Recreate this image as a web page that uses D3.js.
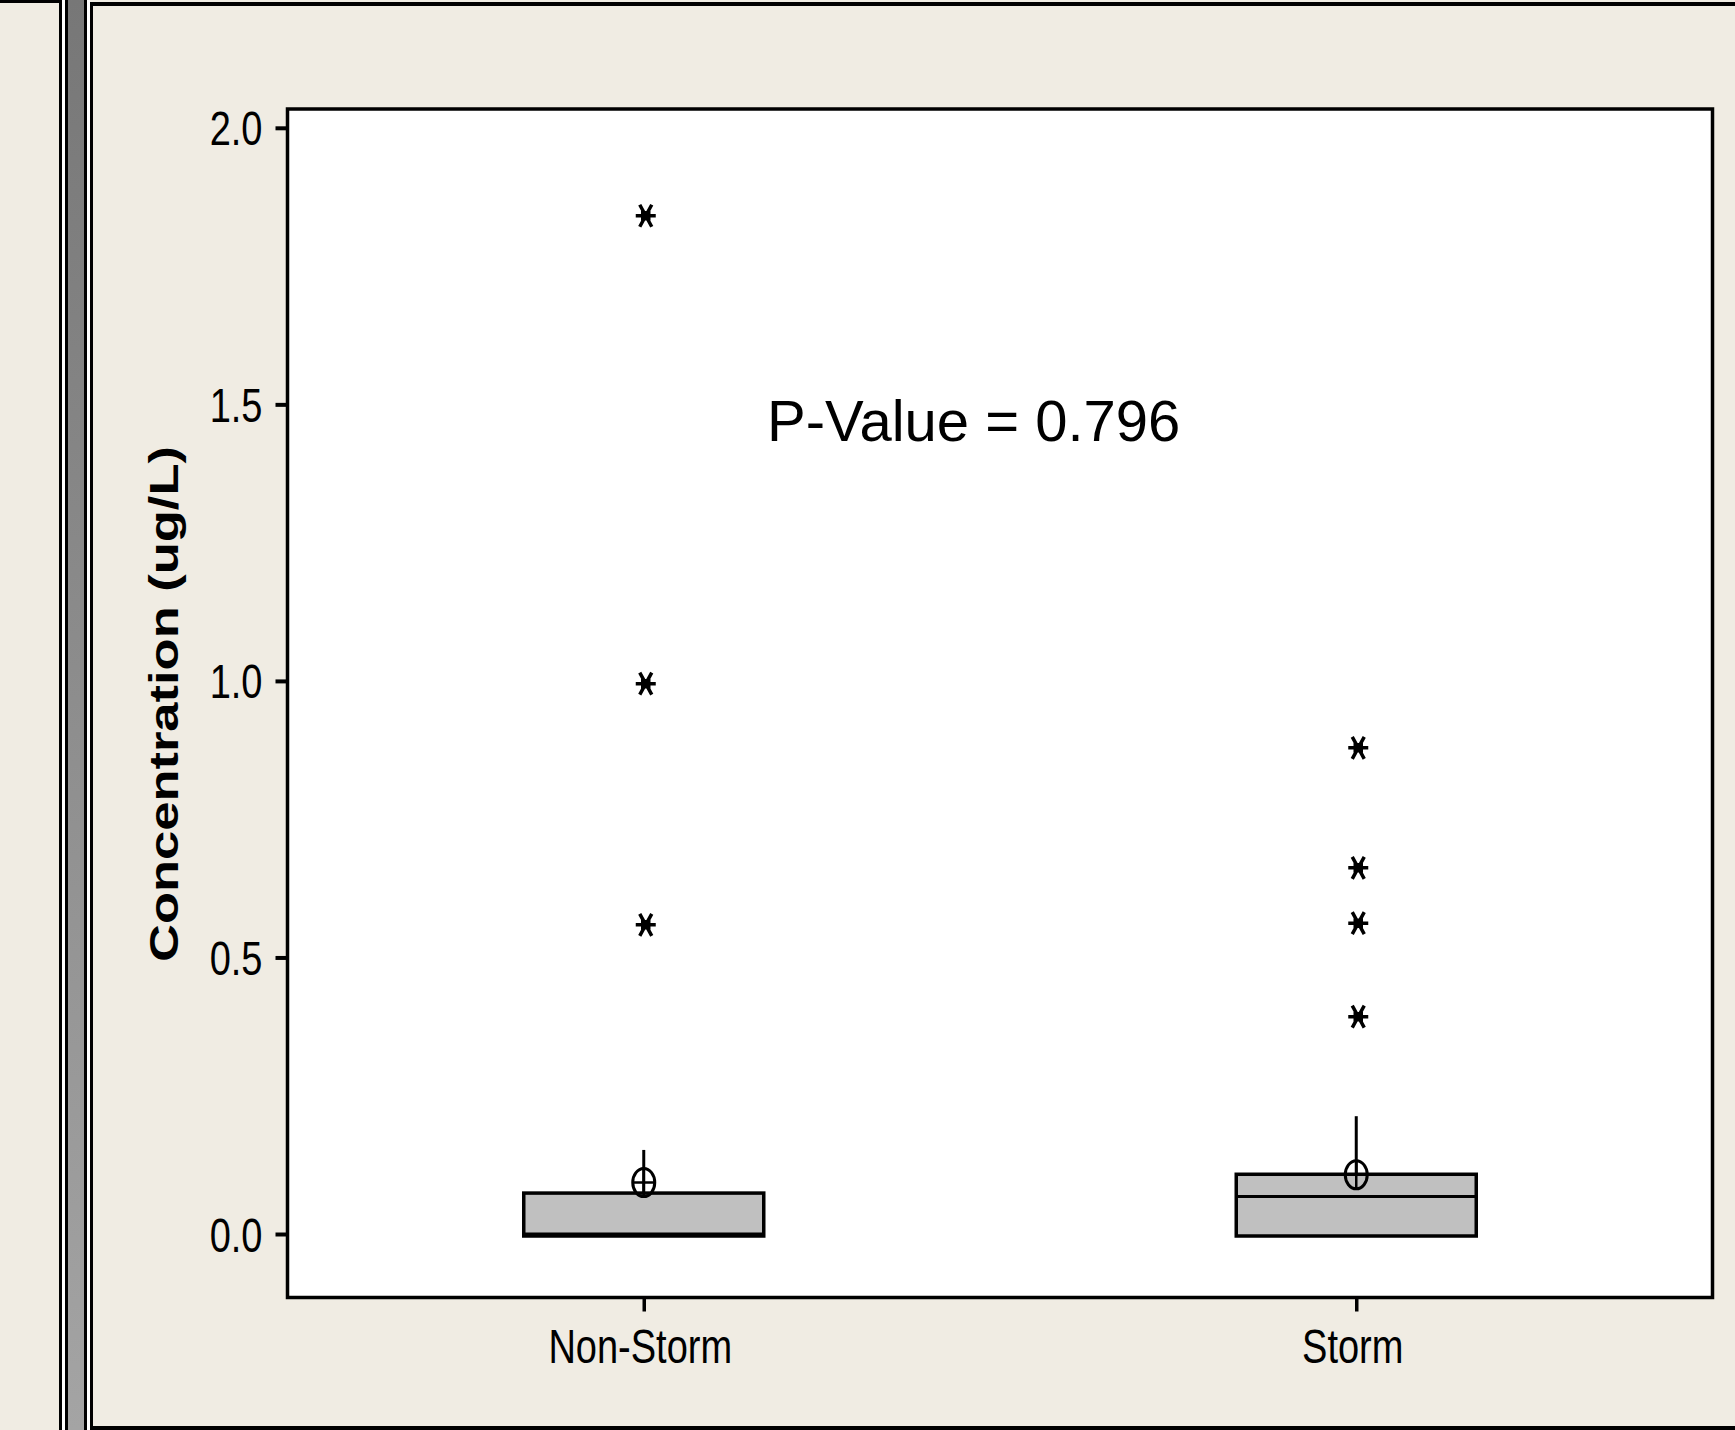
<!DOCTYPE html>
<html>
<head>
<meta charset="utf-8">
<script src="https://cdn.jsdelivr.net/npm/d3@7"></script>
<style>
  html, body { margin: 0; padding: 0; background: #f0ece3; }
  svg { display: block; }
</style>
</head>
<body>
<div id="chart"></div>
<script>
// data
const categories = ['Non-Storm', 'Storm'];
const q1 = [0.0, 0.0];
const median = [0.0, 0.068];
const q3 = [0.074, 0.108];
const whiskerHigh = [0.152, 0.213];
const means = [0.093, 0.107];
const outliers = [
  [1.841, 0.995, 0.559],
  [0.879, 0.662, 0.562, 0.393],
];
const yTicks = [0.0, 0.5, 1.0, 1.5, 2.0];
const yLabel = 'Concentration (ug/L)';
const note = 'P-Value = 0.796';

const style = {
  bg: '#f0ece3',
  box: { fill: '#c0c0c0', width: 240 },
  stroke: 3.5,
  font: '"Liberation Sans", Arial, sans-serif',
};

const W = 1735, H = 1430;
const plot = { left: 287.5, right: 1712.5, top: 109, bottom: 1297.5 };

const svg = d3.select('#chart').append('svg')
  .attr('width', W)
  .attr('height', H);

svg.append('rect')
  .attr('width', W).attr('height', H)
  .attr('fill', style.bg);

// window chrome on the left
const grad = svg.append('defs').append('linearGradient')
  .attr('id', 'bar-grad')
  .attr('x1', 0).attr('y1', 0).attr('x2', 0).attr('y2', 1);
grad.append('stop').attr('offset', 0).attr('stop-color', '#777777');
grad.append('stop').attr('offset', 1).attr('stop-color', '#a4a4a4');

svg.append('rect').attr('x', 0).attr('y', 0).attr('width', 62).attr('height', 3).attr('fill', '#000');
svg.append('rect').attr('x', 59).attr('y', 0).attr('width', 3).attr('height', H).attr('fill', '#000');
svg.append('rect').attr('x', 62).attr('y', 0).attr('width', 3).attr('height', H).attr('fill', '#fff');
svg.append('rect').attr('x', 65).attr('y', 0).attr('width', 22).attr('height', H).attr('fill', '#000');
svg.append('rect').attr('x', 68).attr('y', 0).attr('width', 16).attr('height', H).attr('fill', 'url(#bar-grad)');
svg.append('rect').attr('x', 87).attr('y', 0).attr('width', 3).attr('height', H).attr('fill', '#fff');

// right panel frame
svg.append('rect').attr('x', 90).attr('y', 2).attr('width', W - 90).attr('height', 4).attr('fill', '#000');
svg.append('rect').attr('x', 90).attr('y', 2).attr('width', 3).attr('height', H - 2).attr('fill', '#000');
svg.append('rect').attr('x', 90).attr('y', 1426).attr('width', W - 90).attr('height', 4).attr('fill', '#000');

// scales
const x = d3.scalePoint()
  .domain(categories)
  .range([plot.left, plot.right])
  .padding(0.5);

const y = d3.scaleLinear()
  .domain([-0.1148, 2.034])
  .range([plot.bottom, plot.top]);

// plot area
svg.append('rect')
  .attr('x', plot.left)
  .attr('y', plot.top)
  .attr('width', plot.right - plot.left)
  .attr('height', plot.bottom - plot.top)
  .attr('fill', '#fff')
  .attr('stroke', '#000')
  .attr('stroke-width', style.stroke);

// y axis
const yAxis = d3.axisLeft(y)
  .tickValues(yTicks)
  .tickFormat(d3.format('.1f'))
  .tickSize(12);

const gy = svg.append('g')
  .attr('class', 'y-axis')
  .attr('transform', `translate(${plot.left},0)`)
  .call(yAxis);
gy.select('.domain').remove();
gy.selectAll('line').attr('stroke', '#000').attr('stroke-width', 4);
gy.selectAll('text')
  .attr('x', 0).attr('y', 0).attr('dy', 0)
  .attr('transform', 'translate(-25,17) scale(1,1.25)')
  .attr('text-anchor', 'end')
  .attr('font-family', style.font)
  .attr('font-size', 38)
  .attr('fill', '#000');

// x axis
const xAxis = d3.axisBottom(x).tickSize(14);
const gx = svg.append('g')
  .attr('class', 'x-axis')
  .attr('transform', `translate(0,${plot.bottom})`)
  .call(xAxis);
gx.select('.domain').remove();
gx.selectAll('line').attr('stroke', '#000').attr('stroke-width', 3.5);
gx.selectAll('text')
  .attr('x', 0).attr('y', 0).attr('dy', 0)
  .attr('transform', 'translate(-4,65) scale(1,1.25)')
  .attr('text-anchor', 'middle')
  .attr('font-family', style.font)
  .attr('font-size', 38)
  .attr('fill', '#000');

// y label (stretched along its length like the source)
svg.append('text')
  .attr('transform', 'translate(178,704) rotate(-90) scale(1.28,1)')
  .attr('text-anchor', 'middle')
  .attr('font-family', style.font)
  .attr('font-weight', 'bold')
  .attr('font-size', 41)
  .attr('fill', '#000')
  .text(yLabel);

// boxes
const rows = categories.map((c, i) => ({
  c, q1: q1[i], med: median[i], q3: q3[i], hi: whiskerHigh[i], mean: means[i], out: outliers[i],
}));

const g = svg.append('g').attr('class', 'boxes');

g.selectAll('.whisker').data(rows).enter().append('line')
  .attr('x1', (d) => x(d.c)).attr('x2', (d) => x(d.c))
  .attr('y1', (d) => y(d.q3)).attr('y2', (d) => y(d.hi))
  .attr('stroke', '#000').attr('stroke-width', 3);

g.selectAll('.box').data(rows).enter().append('rect')
  .attr('x', (d) => x(d.c) - style.box.width / 2)
  .attr('y', (d) => y(d.q3))
  .attr('width', style.box.width)
  .attr('height', (d) => y(d.q1) - y(d.q3) + 2)
  .attr('fill', style.box.fill)
  .attr('stroke', '#000')
  .attr('stroke-width', style.stroke);

g.selectAll('.median').data(rows).enter().append('line')
  .attr('x1', (d) => x(d.c) - style.box.width / 2)
  .attr('x2', (d) => x(d.c) + style.box.width / 2)
  .attr('y1', (d) => y(d.med)).attr('y2', (d) => y(d.med))
  .attr('stroke', '#000').attr('stroke-width', 3);

// mean symbol: circle with cross
const mean = g.selectAll('.mean').data(rows).enter().append('g')
  .attr('transform', (d) => `translate(${x(d.c)},${y(d.mean)})`);
mean.append('ellipse')
  .attr('rx', 11).attr('ry', 14)
  .attr('fill', 'none').attr('stroke', '#000').attr('stroke-width', 3);
mean.append('path')
  .attr('d', 'M-11,0H11M0,-14V14')
  .attr('stroke', '#000').attr('stroke-width', 2.5);

// outliers as asterisks
const pts = rows.flatMap((d) => d.out.map((v) => ({ c: d.c, v })));
g.selectAll('.outlier').data(pts).enter().append('path')
  .attr('transform', (d) => `translate(${x(d.c) + 2},${y(d.v)})`)
  .attr('d', 'M-10,0H10M-6,-11L6,11M6,-11L-6,11M-3,-3H3V3H-3Z')
  .attr('stroke', '#000')
  .attr('stroke-width', 3.5)
  .attr('fill', '#000');

// annotation
svg.append('text')
  .attr('x', 767)
  .attr('y', 441)
  .attr('font-family', style.font)
  .attr('font-size', 58)
  .attr('fill', '#000')
  .text(note);
</script>
</body>
</html>
